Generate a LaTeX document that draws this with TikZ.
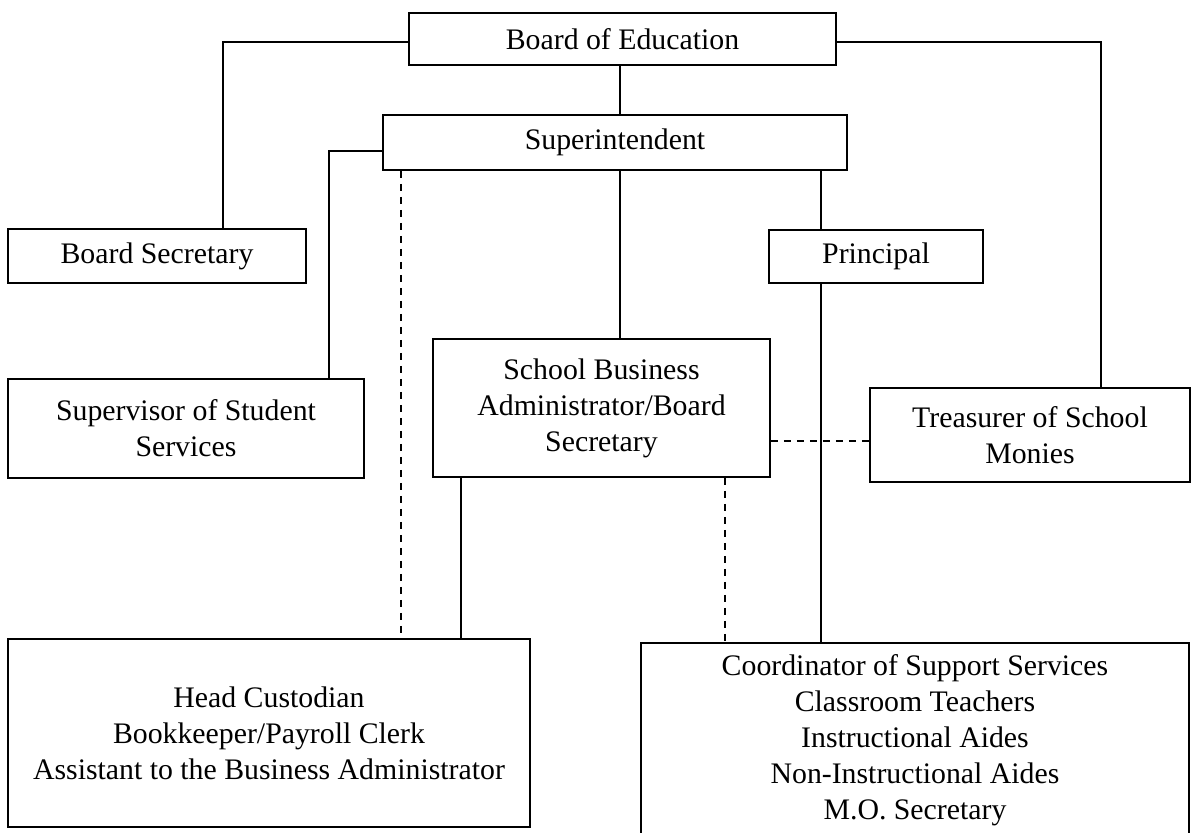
\documentclass[tikz,border=0pt]{standalone}
\usepackage{fontspec}
\setmainfont{Liberation Serif}
\begin{document}
\begin{tikzpicture}[x=0.5pt,y=-0.5pt,
  box/.style={draw, line width=0.9pt, rectangle, inner sep=0pt, align=center,
    font=\fontsize{14.9}{18}\selectfont},
  conn/.style={line width=0.9pt},
  dconn/.style={line width=0.8pt, dash pattern=on 3.5pt off 3pt}]
\useasboundingbox (0,0) rectangle (1191,832);
% boxes
\node[box, minimum width=427*0.5pt, minimum height=52*0.5pt] (boe) at (622.5,39) {Board of Education};
\node[box, minimum width=464*0.5pt, minimum height=55*0.5pt] (sup) at (615,142.5) {Superintendent};
\node[box, minimum width=298*0.5pt, minimum height=54*0.5pt] (bsec) at (157,256) {Board Secretary};
\node[box, minimum width=214*0.5pt, minimum height=53*0.5pt] (prin) at (876,256.5) {Principal};
\node[box, minimum width=356*0.5pt, minimum height=99*0.5pt] (sss) at (186,428.5) {Supervisor of Student\\Services};
\node[box, minimum width=337*0.5pt, minimum height=138*0.5pt] (sba) at (601.5,408) {School Business\\Administrator/Board\\Secretary};
\node[box, minimum width=320*0.5pt, minimum height=94*0.5pt] (tre) at (1030,435) {Treasurer of School\\Monies};
\node[box, minimum width=522*0.5pt, minimum height=188*0.5pt] (bl) at (269,733) {Head Custodian\\Bookkeeper/Payroll Clerk\\Assistant to the Business Administrator};
\node[box, minimum width=548*0.5pt, minimum height=194*0.5pt] (br) at (915,740) {Coordinator of Support Services\\Classroom Teachers\\Instructional Aides\\Non-Instructional Aides\\M.O. Secretary};
% guide coordinates
\coordinate (xa) at (223,0);
\coordinate (xb) at (329,0);
\coordinate (xc) at (401,0);
\coordinate (xd) at (461,0);
\coordinate (xe) at (620,0);
\coordinate (xf) at (725,0);
\coordinate (xg) at (821,0);
\coordinate (xh) at (1101,0);
\coordinate (yb) at (0,42);
\coordinate (ys) at (0,151);
\coordinate (yd) at (0,441);
% connectors
\draw[conn] (boe.west |- yb) -| (bsec.north -| xa);
\draw[conn] (boe.east |- yb) -| (tre.north -| xh);
\draw[conn] (boe.south -| xe) -- (sup.north -| xe);
\draw[conn] (sup.west |- ys) -| (sss.north -| xb);
\draw[conn] (sup.south -| xe) -- (sba.north -| xe);
\draw[conn] (sup.south -| xg) -- (prin.north -| xg);
\draw[conn] (prin.south -| xg) -- (br.north -| xg);
\draw[conn] (sba.south -| xd) -- (bl.north -| xd);
\draw[dconn] (sup.south -| xc) -- (bl.north -| xc);
\draw[dconn] (sba.south -| xf) -- (br.north -| xf);
\draw[dconn] (sba.east |- yd) -- (tre.west |- yd);
\end{tikzpicture}
\end{document}
